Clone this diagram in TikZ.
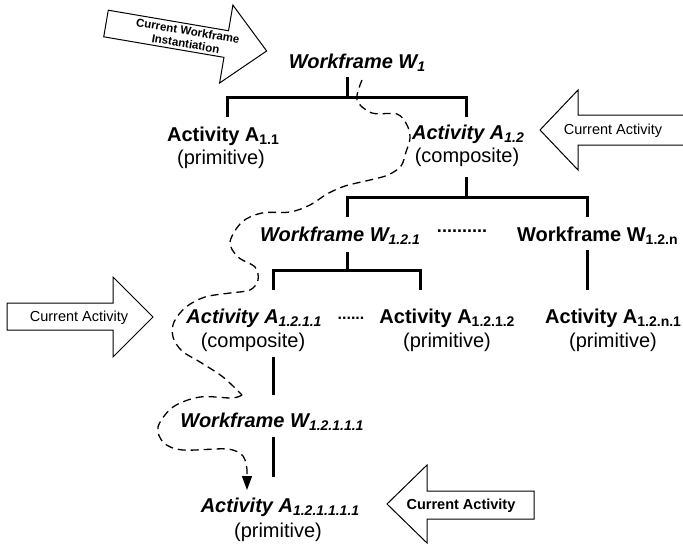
\documentclass[tikz,border=0pt]{standalone}
\usepackage{fontspec}
\setmainfont{Liberation Sans}
\usetikzlibrary{arrows.meta}
\newcommand\sbs[1]{\raisebox{-3.5pt}{\fontsize{14}{14}\selectfont #1}}
\tikzset{
  tree/.style={line width=3pt},
  dashpath/.style={dash pattern=on 8pt off 5pt, line width=1.3pt},
  bigarrow/.style={draw, line width=1pt, fill=white, line join=miter},
  lb/.style={inner sep=0pt, anchor=base, font=\fontsize{20}{24}\selectfont\bfseries},
  lbi/.style={lb, font=\fontsize{20}{24}\selectfont\bfseries\itshape},
  lr/.style={inner sep=0pt, anchor=base, font=\fontsize{20}{24}\selectfont},
  arrtxt/.style={inner sep=0pt, anchor=base, font=\fontsize{14.5}{16}\selectfont},
  arrtxtb/.style={arrtxt, font=\fontsize{14.5}{16}\selectfont\bfseries},
}
\begin{document}
\begin{tikzpicture}[x=1pt,y=-1pt]
\useasboundingbox[fill=white] (0,0) rectangle (683,547);

% ---- big arrows ----
\begin{scope}[shift={(106,23.5)}, rotate=-9.7]
  \draw[bigarrow] (0,-13.5) -- (122,-13.5) -- (122,-39.5) -- (163,0) -- (122,39.5) -- (122,13.5) -- (0,13.5) -- cycle;
  \node[rotate=-9.7, inner sep=0pt, align=center, font=\fontsize{11.5}{13}\selectfont\bfseries] (cwi) at (82,0) {Current Workframe\\Instantiation};
\end{scope}
\draw[bigarrow] (690,115) -- (578,115) -- (578,90) -- (540,130) -- (578,170) -- (578,145) -- (690,145) -- cycle;
\node[arrtxt] (ca1) at (613,134) {Current Activity};
\draw[bigarrow] (7,303) -- (113,303) -- (113,277) -- (153,317) -- (113,357) -- (113,330) -- (7,330) -- cycle;
\node[arrtxt] (ca2) at (79,321) {Current Activity};
\draw[bigarrow] (534,491) -- (427,491) -- (427,465) -- (387,504) -- (427,543) -- (427,519) -- (534,519) -- cycle;
\node[arrtxtb] (ca3) at (461,509) {Current Activity};

% ---- labels ----
\node[lbi] (w1) at (357,68) {Workframe W\sbs{1}};
\node[lb] (a11) at (223,141) {Activity A\sbs{1.1}};
\node[lr] (a11p) at (221,164) {(primitive)};
\node[lbi] (a12) at (468,139) {Activity A\sbs{1.2}};
\node[lr] (a12p) at (467,162) {(composite)};
\node[lbi] (w121) at (340,241) {Workframe W\sbs{1.2.1}};
\node[inner sep=0pt, anchor=base, font=\fontsize{18}{18}\selectfont\bfseries] (dots1) at (462,232) {..........};
\node[lb, anchor=base west] (w12n) at (517,241) {Workframe W\sbs{1.2.n}};
\node[lbi] (a1211) at (254,323) {Activity A\sbs{1.2.1.1}};
\node[lr] (a1211p) at (253,347) {(composite)};
\node[inner sep=0pt, anchor=base, font=\fontsize{16}{16}\selectfont\bfseries] (dots2) at (351,319) {......};
\node[lb] (a1212) at (447,323) {Activity A\sbs{1.2.1.2}};
\node[lr] (a1212p) at (447,347) {(primitive)};
\node[lb, anchor=base west] (a12n1) at (545,323) {Activity A\sbs{1.2.n.1}};
\node[lr] (a12n1p) at (613,347) {(primitive)};
\node[lbi] (w12111) at (272,427) {Workframe W\sbs{1.2.1.1.1}};
\node[lbi] (a121111) at (280,512) {Activity A\sbs{1.2.1.1.1.1}};
\node[lr] (a121111p) at (278,537) {(primitive)};

% ---- tree connectors ----
\coordinate (t1) at (347,77);   \coordinate (j1) at (347,97);
\coordinate (t11) at (227,117); \coordinate (t12) at (466,117);
\coordinate (b12) at (466,177); \coordinate (j2) at (466,197);
\coordinate (t121) at (347,217); \coordinate (t12n) at (587,217);
\coordinate (b121) at (347,252); \coordinate (j3) at (347,270);
\coordinate (t1211) at (273,290); \coordinate (t1212) at (420,290);
\coordinate (b12n) at (587,250); \coordinate (t12n1) at (587,290);
\coordinate (b1211) at (273,357); \coordinate (t12111) at (273,395);
\coordinate (b12111) at (273,437); \coordinate (t121111) at (273,477);
\draw[tree] (t1) -- (j1);
\draw[tree] (t11) |- (j1) -| (t12);
\draw[tree] (b12) -- (j2);
\draw[tree] (t121) |- (j2) -| (t12n);
\draw[tree] (b121) -- (j3);
\draw[tree] (t1211) |- (j3) -| (t1212);
\draw[tree] (b12n) -- (t12n1);
\draw[tree] (b1211) -- (t12111);
\draw[tree] (b12111) -- (t121111);

% ---- dashed trace ----
\draw[dashpath] plot[smooth, tension=0.55] coordinates {(362,80) (357,100) (372,113) (397,114) (407,125) (410,138) (406,152) (401,166) (388,175) (370,180) (345,186) (327,194) (310,205) (290,212) (262,213) (242,222) (230,242) (238,257) (255,267) (258,280) (250,290) (230,293) (205,297) (186,307) (174,322) (173,337) (182,351) (200,362) (223,377) (242,395)};
\coordinate (dend) at (247,490);
\draw[dashpath, -{Triangle[length=14pt,width=10pt]}] plot[smooth, tension=0.55] coordinates {(242,395) (232,398) (200,397) (173,407) (158,427) (164,443) (183,450) (227,449) (243,456) (247,470)} -- (dend);
\end{tikzpicture}
\end{document}
